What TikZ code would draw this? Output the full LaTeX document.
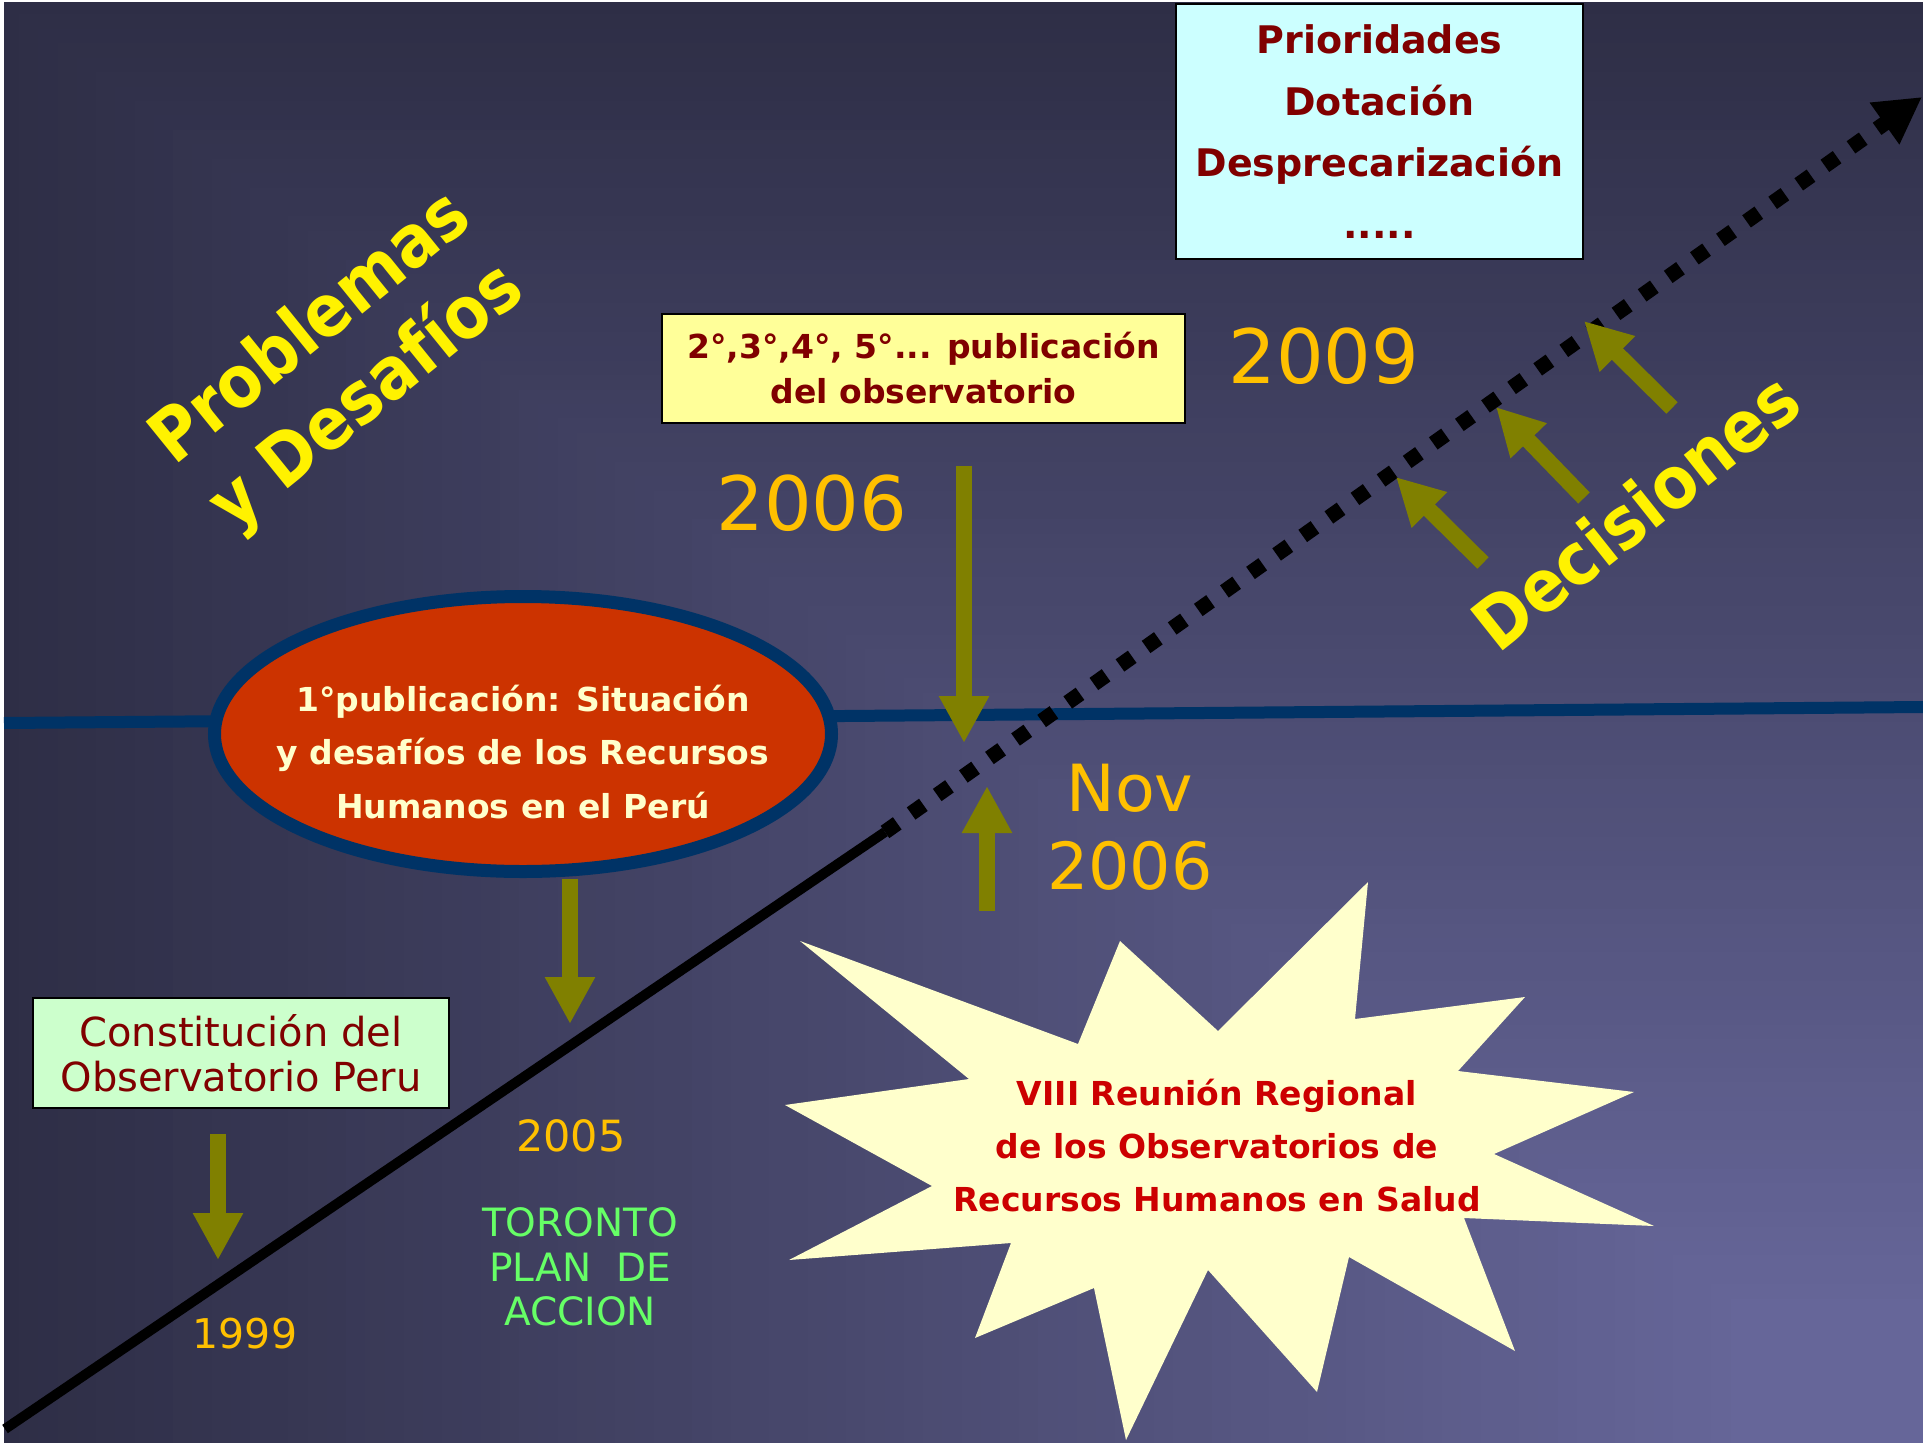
\documentclass[tikz,border=0pt]{standalone}
\usepackage{fontspec}
\setmainfont{DejaVu Sans}
\newfontfamily\titlefont[FakeStretch=0.9]{DejaVu Sans}
\usetikzlibrary{arrows.meta,shapes.geometric}
\definecolor{bgdark}{HTML}{2E2E46}
\definecolor{bglight}{HTML}{666699}
\definecolor{lineblue}{HTML}{003366}
\definecolor{ellred}{HTML}{CC3300}
\definecolor{arrowolive}{HTML}{808000}
\definecolor{maroontxt}{HTML}{800000}
\definecolor{redtxt}{HTML}{CC0000}
\definecolor{yearorange}{HTML}{FFC000}
\definecolor{torgreen}{HTML}{66FF66}
\definecolor{cyanbox}{HTML}{CCFFFF}
\definecolor{yelbox}{HTML}{FFFF99}
\definecolor{greenbox}{HTML}{CCFFCC}
\definecolor{starfill}{HTML}{FFFFCC}
\definecolor{elltext}{HTML}{FFFFCC}
\begin{document}
\begin{tikzpicture}[x=1pt,y=-1pt,
  olivearrow/.style={draw=arrowolive, line width=16pt, -{Triangle[length=47pt,width=47pt]}},
  boxnode/.style={draw=black, line width=2.5pt, inner sep=0pt, align=center},
  yearnode/.style={text=yearorange, anchor=base, inner sep=0pt},
  titlenode/.style={text=yellow, font=\titlefont\bfseries\fontsize{72}{89}\selectfont, inner sep=0pt, align=center},
  tornode/.style={text=torgreen, anchor=base, inner sep=0pt, font=\fontsize{39}{45}\selectfont}]
\useasboundingbox (0,0) rectangle (1923,1443);
\fill[white] (0,0) rectangle (1923,1443);
% background: rectangular gradient from the lower right corner
\begin{scope}
\clip (4,2) rectangle (1923,1443);
\foreach \i in {0,...,90}{
  \pgfmathtruncatemacro\p{\i/0.9}
  \fill[bglight!\p!bgdark] ({19.23*\i},{14.43*\i}) rectangle (1923,1443);
}
\end{scope}
% blue horizontal line
\coordinate (bl1) at (4,723);
\coordinate (bl2) at (1923,707);
\draw[lineblue, line width=12pt] (bl1) -- (bl2);
% ellipse
\node[ellipse, draw=lineblue, line width=13pt, fill=ellred, minimum width=617pt, minimum height=275pt, inner sep=0pt] (ell) at (523,734) {};
\node[text=elltext, font=\bfseries\fontsize{33}{53.5}\selectfont, align=center, inner sep=0pt] (elltxt) at (523,752) {1°publicación: Situación\\y desafíos de los Recursos\\Humanos en el Perú};
% time line
\coordinate (L0) at (5,1429);
\coordinate (J) at (885,832);
\coordinate (T) at (1922,97);
\draw[black, line width=10pt] (L0) -- (J);
\draw[black, line width=15pt, dash pattern=on 15pt off 17pt, -{Triangle[length=46pt,width=48pt]}] (J) -- (T);
% starburst
\fill[starfill] (1368,882) -- (1355,1019) -- (1525,997) -- (1458,1071) -- (1634,1092) -- (1494,1154) -- (1654,1226) -- (1464,1218) -- (1515,1351) -- (1349,1257) -- (1317,1392) -- (1208,1270) -- (1126,1440) -- (1094,1288) -- (975,1338) -- (1011,1243) -- (789,1260) -- (932,1186) -- (785,1105) -- (969,1079) -- (800,941) -- (1078,1044) -- (1120,941) -- (1218,1031) -- cycle;
\node[text=redtxt, font=\bfseries\fontsize{33}{53}\selectfont, align=center, inner sep=0pt] (star) at (1217,1145.5) {VIII Reunión Regional\\de los Observatorios de\\Recursos Humanos en Salud};
% boxes
\node[boxnode, fill=cyanbox, minimum width=407pt, minimum height=255pt, text=maroontxt, font=\bfseries\fontsize{38}{61.5}\selectfont] (prio) at (1379.5,131.5) {Prioridades\\Dotación\\Desprecarización\\.....};
\node[boxnode, fill=yelbox, minimum width=523pt, minimum height=109pt, text=maroontxt, font=\bfseries\fontsize{33}{45}\selectfont] (pub) at (923.5,368.5) {2°,3°,4°, 5°... publicación\\del observatorio};
\node[boxnode, fill=greenbox, minimum width=416pt, minimum height=110pt, text=maroontxt, font=\fontsize{40}{45}\selectfont] (const) at (241,1053) {Constitución del\\Observatorio Peru};
% olive arrows
\coordinate (a1s) at (218,1134); \coordinate (a1e) at (218,1260);
\coordinate (a2s) at (570,879);  \coordinate (a2e) at (570,1024);
\coordinate (a3s) at (964,466);  \coordinate (a3e) at (964,743);
\coordinate (a4s) at (987,911);  \coordinate (a4e) at (987,786);
\coordinate (d1s) at (1483,563); \coordinate (d1e) at (1396,477);
\coordinate (d2s) at (1584,498); \coordinate (d2e) at (1496,407);
\coordinate (d3s) at (1672,408); \coordinate (d3e) at (1584,321);
\draw[olivearrow] (a1s) -- (a1e);
\draw[olivearrow] (a2s) -- (a2e);
\draw[olivearrow] (a3s) -- (a3e);
\draw[olivearrow] (a4s) -- (a4e);
\draw[olivearrow] (d1s) -- (d1e);
\draw[olivearrow] (d2s) -- (d2e);
\draw[olivearrow] (d3s) -- (d3e);
% years
\node[yearnode, font=\fontsize{75}{90}\selectfont] (y2009) at (1324,383) {2009};
\node[yearnode, font=\fontsize{75}{90}\selectfont] (y2006) at (812,530) {2006};
\node[yearnode, font=\fontsize{65}{78}\selectfont] (nov) at (1130,811) {Nov};
\node[yearnode, font=\fontsize{65}{78}\selectfont] (nov2006) at (1130,889) {2006};
\node[yearnode, font=\fontsize{43}{50}\selectfont] (y2005) at (571,1151) {2005};
\node[yearnode, font=\fontsize{41}{50}\selectfont] (y1999) at (245,1348) {1999};
% Toronto
\node[tornode] (tor1) at (580,1236) {TORONTO};
\node[tornode] (tor2) at (580,1281) {PLAN\ \ DE};
\node[tornode] (tor3) at (580,1325) {ACCION};
% rotated titles
\node[titlenode, rotate=39] (prob) at (340,364) {Problemas\\y Desafíos};
\node[titlenode, anchor=base, rotate=38.5] (dec) at (1652,532) {Decisiones};
\end{tikzpicture}
\end{document}
